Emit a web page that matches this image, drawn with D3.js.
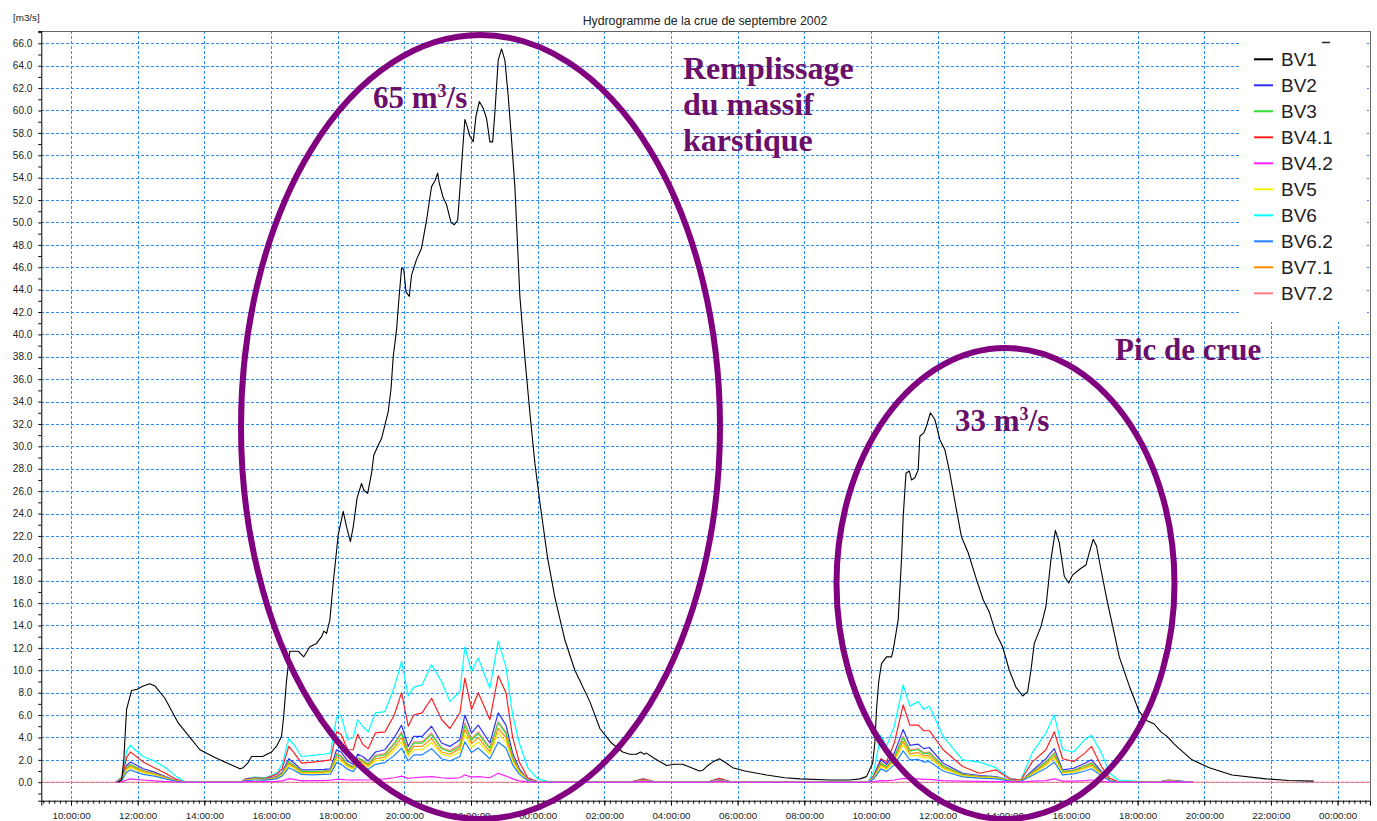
<!DOCTYPE html>
<html>
<head>
<meta charset="utf-8">
<script src="https://cdn.jsdelivr.net/npm/d3@7"></script>
<style>
  html, body { margin: 0; padding: 0; background: #ffffff; }
  svg { display: block; font-family: "Liberation Sans", Arial, sans-serif; }
</style>
</head>
<body>
<svg id="chart" width="1377" height="821"></svg>
<script>
// ---- Series definitions ----
const seriesNames  = ["BV1", "BV2", "BV3", "BV4.1", "BV4.2", "BV5", "BV6", "BV6.2", "BV7.1", "BV7.2"];
const seriesColors = ["#000000", "#3030f0", "#30e030", "#ff2020", "#ff20ff", "#f0f000", "#00ffff", "#2080ff", "#ff8c00", "#ff8080"];

// ---- BV1 discharge (m3/s) ----
const bv1Times = [
  "2002-09-08 11:25","2002-09-08 11:31","2002-09-08 11:35","2002-09-08 11:40","2002-09-08 11:49","2002-09-08 11:59",
  "2002-09-08 12:10","2002-09-08 12:22","2002-09-08 12:31","2002-09-08 12:49","2002-09-08 13:13","2002-09-08 13:34",
  "2002-09-08 13:52","2002-09-08 14:19","2002-09-08 14:46","2002-09-08 15:04","2002-09-08 15:10","2002-09-08 15:18",
  "2002-09-08 15:25","2002-09-08 15:37","2002-09-08 15:45","2002-09-08 16:01","2002-09-08 16:11","2002-09-08 16:19",
  "2002-09-08 16:23","2002-09-08 16:28","2002-09-08 16:34","2002-09-08 16:40","2002-09-08 16:49","2002-09-08 16:59",
  "2002-09-08 17:10","2002-09-08 17:22","2002-09-08 17:31","2002-09-08 17:35","2002-09-08 17:40","2002-09-08 17:46",
  "2002-09-08 17:52","2002-09-08 18:01","2002-09-08 18:10","2002-09-08 18:16","2002-09-08 18:23","2002-09-08 18:28",
  "2002-09-08 18:35","2002-09-08 18:43","2002-09-08 18:47","2002-09-08 18:54","2002-09-08 19:01","2002-09-08 19:05",
  "2002-09-08 19:13","2002-09-08 19:19","2002-09-08 19:25","2002-09-08 19:31","2002-09-08 19:36","2002-09-08 19:40",
  "2002-09-08 19:46","2002-09-08 19:50","2002-09-08 19:55","2002-09-08 19:59","2002-09-08 20:03","2002-09-08 20:09",
  "2002-09-08 20:13","2002-09-08 20:22","2002-09-08 20:31","2002-09-08 20:40","2002-09-08 20:49","2002-09-08 20:55",
  "2002-09-08 21:00","2002-09-08 21:03","2002-09-08 21:10","2002-09-08 21:16","2002-09-08 21:24","2002-09-08 21:30",
  "2002-09-08 21:36","2002-09-08 21:40","2002-09-08 21:45","2002-09-08 21:49","2002-09-08 21:53","2002-09-08 21:58",
  "2002-09-08 22:04","2002-09-08 22:09","2002-09-08 22:15","2002-09-08 22:22","2002-09-08 22:28","2002-09-08 22:34",
  "2002-09-08 22:39","2002-09-08 22:43","2002-09-08 22:49","2002-09-08 22:55","2002-09-08 23:01","2002-09-08 23:07",
  "2002-09-08 23:13","2002-09-08 23:19","2002-09-08 23:28","2002-09-08 23:37","2002-09-08 23:46","2002-09-08 23:55",
  "2002-09-09 00:04","2002-09-09 00:18","2002-09-09 00:31","2002-09-09 00:49","2002-09-09 01:07","2002-09-09 01:34",
  "2002-09-09 01:52","2002-09-09 02:13","2002-09-09 02:33","2002-09-09 02:46","2002-09-09 02:58","2002-09-09 03:05",
  "2002-09-09 03:12","2002-09-09 03:16","2002-09-09 03:31","2002-09-09 03:52","2002-09-09 04:06","2002-09-09 04:21",
  "2002-09-09 04:37","2002-09-09 04:51","2002-09-09 04:58","2002-09-09 05:04","2002-09-09 05:15","2002-09-09 05:27",
  "2002-09-09 05:40","2002-09-09 05:51","2002-09-09 06:13","2002-09-09 06:52","2002-09-09 07:25","2002-09-09 07:52",
  "2002-09-09 08:46","2002-09-09 09:22","2002-09-09 09:40","2002-09-09 09:52","2002-09-09 10:03","2002-09-09 10:07",
  "2002-09-09 10:10","2002-09-09 10:14","2002-09-09 10:19","2002-09-09 10:28","2002-09-09 10:37","2002-09-09 10:40",
  "2002-09-09 10:49","2002-09-09 10:55","2002-09-09 10:58","2002-09-09 11:03","2002-09-09 11:09","2002-09-09 11:13",
  "2002-09-09 11:19","2002-09-09 11:25","2002-09-09 11:28","2002-09-09 11:35","2002-09-09 11:40","2002-09-09 11:47",
  "2002-09-09 11:55","2002-09-09 12:04","2002-09-09 12:13","2002-09-09 12:22","2002-09-09 12:34","2002-09-09 12:43",
  "2002-09-09 12:55","2002-09-09 13:10","2002-09-09 13:22","2002-09-09 13:33","2002-09-09 13:45","2002-09-09 13:57",
  "2002-09-09 14:09","2002-09-09 14:21","2002-09-09 14:33","2002-09-09 14:42","2002-09-09 14:48","2002-09-09 14:54",
  "2002-09-09 15:06","2002-09-09 15:15","2002-09-09 15:24","2002-09-09 15:32","2002-09-09 15:39","2002-09-09 15:48",
  "2002-09-09 15:56","2002-09-09 16:03","2002-09-09 16:15","2002-09-09 16:27","2002-09-09 16:33","2002-09-09 16:40",
  "2002-09-09 16:46","2002-09-09 16:54","2002-09-09 17:06","2002-09-09 17:18","2002-09-09 17:27","2002-09-09 17:45",
  "2002-09-09 18:03","2002-09-09 18:17","2002-09-09 18:30","2002-09-09 18:42","2002-09-09 18:53","2002-09-09 19:06",
  "2002-09-09 19:24","2002-09-09 19:38","2002-09-09 20:09","2002-09-09 20:50","2002-09-09 21:51","2002-09-09 22:32",
  "2002-09-09 23:17"
];
const bv1Values = [
  0, 0.2, 2.0, 6.5, 8.2, 8.3,
  8.6, 8.8, 8.6, 7.5, 5.3, 4.0,
  2.9, 2.2, 1.6, 1.2, 1.3, 1.7,
  2.3, 2.3, 2.3, 2.7, 3.3, 4.1,
  6.0, 9.1, 11.7, 11.7, 11.7, 11.2,
  12.1, 12.4, 13.0, 13.5, 13.3, 14.5,
  17.8, 22.1, 24.2, 22.8, 21.5, 22.8,
  25.4, 26.7, 26.1, 25.8, 27.6, 29.2,
  30.1, 30.7, 31.9, 33.1, 35.1, 38.0,
  40.4, 43.0, 45.9, 45.8, 43.8, 43.4,
  45.3, 46.7, 47.7, 50.2, 53.2, 53.7,
  54.4, 53.5, 52.2, 51.6, 50.0, 49.8,
  50.2, 52.9, 56.5, 59.2, 58.6, 57.7,
  57.2, 59.5, 60.8, 60.2, 59.3, 57.2,
  57.2, 59.8, 64.5, 65.5, 64.5, 61.3,
  57.4, 53.2, 43.4, 37.9, 33.0, 28.5,
  25.0, 20.0, 16.5, 12.7, 10.0, 7.2,
  4.8, 3.5, 2.7, 2.5, 2.5, 2.7,
  2.5, 2.6, 2.1, 1.5, 1.6, 1.6,
  1.3, 1.0, 1.1, 1.4, 1.8, 2.1,
  1.7, 1.3, 1.0, 0.65, 0.4, 0.3,
  0.2, 0.2, 0.3, 0.5, 1.7, 3.5,
  6.5, 9.0, 10.6, 11.2, 11.2, 11.8,
  14.5, 19.9, 23.7, 27.6, 27.8, 27.0,
  27.2, 27.9, 30.9, 31.2, 31.8, 33.0,
  32.4, 30.6, 29.7, 27.6, 24.3, 21.9,
  20.5, 18.1, 16.3, 15.2, 13.3, 12.1,
  10.0, 8.5, 7.7, 8.1, 10.0, 12.4,
  13.9, 15.7, 19.9, 22.5, 21.4, 18.4,
  17.8, 18.5, 19.0, 19.4, 20.5, 21.7,
  21.1, 19.0, 16.0, 13.3, 11.2, 8.6,
  6.3, 5.5, 5.2, 4.5, 4.1, 3.4,
  2.6, 2.0, 1.3, 0.65, 0.3, 0.15,
  0.1
];

// ---- Sub-basins BV2 ... BV7.2 (m3/s), shared time stamps ----
const subTimes = [
  "2002-09-08 11:20","2002-09-08 11:32","2002-09-08 11:40","2002-09-08 11:47","2002-09-08 11:55","2002-09-08 12:10",
  "2002-09-08 12:30","2002-09-08 12:50","2002-09-08 13:10","2002-09-08 13:25","2002-09-08 15:05","2002-09-08 15:15",
  "2002-09-08 15:30","2002-09-08 15:50","2002-09-08 16:10","2002-09-08 16:20","2002-09-08 16:32","2002-09-08 16:42",
  "2002-09-08 16:55","2002-09-08 17:15","2002-09-08 17:35","2002-09-08 17:47","2002-09-08 17:58","2002-09-08 18:06",
  "2002-09-08 18:18","2002-09-08 18:28","2002-09-08 18:36","2002-09-08 18:45","2002-09-08 18:55","2002-09-08 19:08",
  "2002-09-08 19:25","2002-09-08 19:42","2002-09-08 19:55","2002-09-08 20:07","2002-09-08 20:17","2002-09-08 20:32",
  "2002-09-08 20:49","2002-09-08 21:07","2002-09-08 21:22","2002-09-08 21:40","2002-09-08 21:49","2002-09-08 22:01",
  "2002-09-08 22:13","2002-09-08 22:34","2002-09-08 22:49","2002-09-08 23:03","2002-09-08 23:15","2002-09-08 23:27",
  "2002-09-08 23:42","2002-09-09 00:00","2002-09-09 00:20","2002-09-09 02:45","2002-09-09 03:10","2002-09-09 03:35",
  "2002-09-09 05:05","2002-09-09 05:27","2002-09-09 05:50","2002-09-09 09:55","2002-09-09 10:05","2002-09-09 10:18",
  "2002-09-09 10:28","2002-09-09 10:42","2002-09-09 10:58","2002-09-09 11:10","2002-09-09 11:25","2002-09-09 11:35",
  "2002-09-09 11:45","2002-09-09 12:10","2002-09-09 12:45","2002-09-09 13:15","2002-09-09 13:45","2002-09-09 14:10",
  "2002-09-09 14:30","2002-09-09 14:50","2002-09-09 15:15","2002-09-09 15:30","2002-09-09 15:45","2002-09-09 16:05",
  "2002-09-09 16:25","2002-09-09 16:37","2002-09-09 16:55","2002-09-09 17:10","2002-09-09 17:25","2002-09-09 18:35",
  "2002-09-09 18:55","2002-09-09 19:20","2002-09-09 19:40"
];
const bv2Values = [
  0, 0.3, 1.5, 1.8, 1.6, 1.2, 0.9, 0.5, 0.15, 0, 0, 0.25,
  0.35, 0.3, 0.5, 0.9, 2.1, 1.7, 1.1, 1.1, 1.15, 1.2, 2.9, 2.7,
  1.9, 1.6, 2.5, 2.3, 1.9, 2.7, 2.9, 4.0, 5.1, 3.2, 4.1, 4.1,
  5.0, 3.5, 3.2, 3.8, 6.0, 4.4, 5.1, 3.5, 6.2, 5.1, 2.6, 1.2,
  0.25, 0.03, 0, 0, 0.2, 0, 0, 0.25, 0, 0, 0.5, 2.0,
  1.6, 2.6, 4.7, 3.3, 3.4, 3.0, 3.1, 1.7, 0.8, 0.6, 0.5, 0.2,
  0.1, 1.0, 2.1, 3.0, 1.1, 1.25, 1.7, 2.0, 0.95, 0.2, 0, 0,
  0.15, 0.05, 0
];
const bv3Values = [
  0, 0.25, 1.3, 1.55, 1.35, 1.0, 0.75, 0.42, 0.12, 0, 0, 0.2,
  0.3, 0.25, 0.42, 0.76, 1.8, 1.45, 0.95, 0.95, 1.0, 1.0, 2.45, 2.3,
  1.6, 1.35, 2.1, 1.95, 1.6, 2.3, 2.45, 3.4, 4.35, 2.7, 3.5, 3.5,
  4.25, 3.0, 2.7, 3.2, 5.1, 3.75, 4.35, 3.0, 5.3, 4.35, 2.2, 1.0,
  0.2, 0.02, 0, 0, 0.15, 0, 0, 0.2, 0, 0, 0.4, 1.7,
  1.35, 2.2, 4.0, 2.8, 2.9, 2.55, 2.6, 1.45, 0.68, 0.5, 0.43, 0.17,
  0.08, 0.85, 1.8, 2.55, 0.95, 1.05, 1.45, 1.7, 0.8, 0.17, 0, 0,
  0.12, 0.04, 0
];
const bv41Values = [
  0, 0.4, 2.2, 2.7, 2.4, 1.8, 1.3, 0.8, 0.25, 0, 0, 0.3,
  0.4, 0.35, 0.7, 1.2, 3.2, 2.6, 1.7, 1.8, 1.9, 2.0, 4.5, 4.3,
  2.9, 2.9, 4.3, 3.4, 3.0, 4.4, 4.5, 6.0, 8.0, 5.0, 6.0, 6.2,
  7.5, 5.6, 4.8, 6.2, 9.3, 6.5, 8.0, 5.6, 9.5, 8.0, 4.0, 1.8,
  0.4, 0.05, 0, 0, 0.3, 0, 0, 0.35, 0, 0, 0.6, 2.1,
  1.8, 3.5, 6.9, 5.1, 5.1, 4.6, 4.6, 2.9, 1.4, 0.8, 1.1, 0.3,
  0.2, 1.8, 2.9, 4.5, 2.1, 1.85, 2.6, 3.2, 1.4, 0.35, 0.05, 0,
  0.2, 0.08, 0
];
const bv42Values = [
  0, 0.05, 0.2, 0.3, 0.25, 0.2, 0.12, 0.06, 0.02, 0, 0, 0.05,
  0.05, 0.05, 0.08, 0.12, 0.3, 0.25, 0.12, 0.15, 0.15, 0.18, 0.25, 0.25,
  0.2, 0.18, 0.22, 0.2, 0.2, 0.25, 0.3, 0.4, 0.55, 0.35, 0.4, 0.45,
  0.5, 0.4, 0.35, 0.4, 0.65, 0.45, 0.5, 0.4, 0.8, 0.55, 0.3, 0.12,
  0.03, 0, 0, 0, 0.05, 0, 0, 0.08, 0, 0, 0.05, 0.15,
  0.12, 0.2, 0.35, 0.3, 0.3, 0.25, 0.25, 0.15, 0.1, 0.08, 0.06, 0.03,
  0.02, 0.1, 0.15, 0.3, 0.1, 0.1, 0.15, 0.2, 0.08, 0.02, 0, 0,
  0.03, 0.01, 0
];
const bv5Values = [
  0, 0.2, 1.1, 1.3, 1.15, 0.85, 0.65, 0.35, 0.1, 0, 0, 0.18,
  0.25, 0.2, 0.35, 0.65, 1.5, 1.2, 0.8, 0.8, 0.82, 0.85, 2.05, 1.9,
  1.35, 1.15, 1.8, 1.65, 1.35, 1.9, 2.05, 2.85, 3.6, 2.3, 2.9, 2.9,
  3.55, 2.5, 2.3, 2.7, 4.25, 3.1, 3.6, 2.5, 4.4, 3.6, 1.85, 0.85,
  0.18, 0.02, 0, 0, 0.12, 0, 0, 0.15, 0, 0, 0.35, 1.4,
  1.15, 1.85, 3.35, 2.35, 2.4, 2.15, 2.2, 1.2, 0.57, 0.43, 0.36, 0.14,
  0.07, 0.7, 1.5, 2.15, 0.8, 0.9, 1.2, 1.4, 0.68, 0.14, 0, 0,
  0.1, 0.03, 0
];
const bv6Values = [
  0, 0.5, 2.8, 3.3, 2.9, 2.3, 1.9, 1.3, 0.5, 0.05, 0, 0.3,
  0.45, 0.4, 0.8, 1.6, 3.9, 3.3, 2.3, 2.4, 2.5, 2.6, 5.8, 6.0,
  3.8, 4.0, 5.6, 5.0, 4.5, 6.2, 6.3, 8.5, 10.8, 7.7, 8.5, 8.7,
  10.5, 9.0, 7.2, 8.1, 12.1, 9.9, 11.1, 8.4, 12.6, 10.3, 6.0, 3.5,
  1.3, 0.3, 0.05, 0, 0.3, 0, 0, 0.35, 0, 0, 1.0, 4.2,
  3.2, 5.0, 8.7, 6.8, 7.2, 6.5, 6.8, 4.1, 2.0, 1.8, 1.3, 0.35,
  0.2, 2.6, 4.4, 6.0, 2.9, 2.7, 3.8, 4.2, 2.6, 0.8, 0.2, 0,
  0.2, 0.1, 0
];
const bv62Values = [
  0, 0.2, 0.9, 1.1, 0.95, 0.7, 0.55, 0.3, 0.08, 0, 0, 0.15,
  0.2, 0.18, 0.3, 0.55, 1.3, 1.05, 0.7, 0.65, 0.7, 0.72, 1.75, 1.6,
  1.15, 0.95, 1.5, 1.4, 1.15, 1.6, 1.75, 2.4, 3.05, 1.9, 2.45, 2.45,
  3.0, 2.1, 1.9, 2.3, 3.6, 2.65, 3.05, 2.1, 3.6, 3.05, 1.55, 0.7,
  0.15, 0.02, 0, 0, 0.1, 0, 0, 0.12, 0, 0, 0.3, 1.2,
  0.95, 1.55, 2.8, 2.0, 2.05, 1.8, 1.85, 1.0, 0.48, 0.36, 0.3, 0.12,
  0.06, 0.6, 1.25, 1.8, 0.65, 0.75, 1.0, 1.2, 0.57, 0.12, 0, 0,
  0.08, 0.03, 0
];
const bv71Values = [
  0, 0.25, 1.2, 1.4, 1.25, 0.95, 0.7, 0.4, 0.12, 0, 0, 0.2,
  0.28, 0.24, 0.4, 0.7, 1.65, 1.35, 0.85, 0.85, 0.9, 0.93, 2.25, 2.1,
  1.5, 1.25, 1.95, 1.8, 1.5, 2.1, 2.25, 3.1, 4.0, 2.5, 3.2, 3.2,
  3.9, 2.7, 2.5, 3.0, 4.7, 3.45, 4.0, 2.7, 4.8, 4.0, 2.0, 0.95,
  0.2, 0.02, 0, 0, 0.15, 0, 0, 0.2, 0, 0, 0.4, 1.55,
  1.25, 2.0, 3.65, 2.55, 2.65, 2.35, 2.4, 1.3, 0.62, 0.47, 0.39, 0.16,
  0.08, 0.78, 1.65, 2.35, 0.85, 0.95, 1.3, 1.55, 0.74, 0.16, 0, 0,
  0.12, 0.04, 0
];
const bv72Values = [
  0, 0.25, 1.35, 1.6, 1.4, 1.05, 0.8, 0.45, 0.13, 0, 0, 0.22,
  0.3, 0.27, 0.45, 0.8, 1.85, 1.5, 1.0, 0.95, 1.0, 1.05, 2.55, 2.4,
  1.65, 1.4, 2.2, 2.0, 1.65, 2.4, 2.55, 3.5, 4.5, 2.8, 3.6, 3.6,
  4.4, 3.1, 2.8, 3.35, 5.3, 3.9, 4.5, 3.1, 5.4, 4.5, 2.3, 1.05,
  0.22, 0.03, 0, 0, 0.18, 0, 0, 0.22, 0, 0, 0.45, 1.75,
  1.4, 2.3, 4.1, 2.9, 3.0, 2.65, 2.7, 1.5, 0.7, 0.53, 0.44, 0.18,
  0.09, 0.88, 1.85, 2.65, 0.95, 1.1, 1.5, 1.75, 0.84, 0.18, 0, 0,
  0.13, 0.05, 0
];

// ---- Axis / chart texts ----
const chartTitle = "Hydrogramme de la crue de septembre 2002";
const unitLabel = "[m3/s]";
const yLabelTicks = d3.range(0, 67, 2);       // 0.0 ... 66.0
const yMinorTicks = d3.range(-1, 68, 1);
const xDomain = ["2002-09-08 09:06:30", "2002-09-10 00:58:20"];
const yDomain = [-1.65, 67.1];

// ---- Annotations ----
const noteLines = ["Remplissage", "du massif", "karstique"];
const peakNote1 = ["65 m", "3", "/s"];
const peakNote2 = ["33 m", "3", "/s"];
const peakTitle = "Pic de crue";

// ---- Build ----
const parseT = d3.timeParse("%Y-%m-%d %H:%M");
const parseFull = d3.timeParse("%Y-%m-%d %H:%M:%S");

const W = 1377, H = 821;
const plot = { left: 41.3, right: 1370, top: 31, bottom: 800.7 };

const svg = d3.select("#chart");

const x = d3.scaleTime()
  .domain(xDomain.map(parseFull))
  .range([plot.left, plot.right]);
const y = d3.scaleLinear()
  .domain(yDomain)
  .range([plot.bottom, plot.top]);

const subSeries = [bv2Values, bv3Values, bv41Values, bv42Values, bv5Values, bv6Values, bv62Values, bv71Values, bv72Values];
const subT = subTimes.map(parseT);
const allSeries = [
  { name: seriesNames[0], color: seriesColors[0], pts: bv1Times.map((t, i) => [parseT(t), bv1Values[i]]) }
].concat(subSeries.map((vals, k) => ({
  name: seriesNames[k + 1],
  color: seriesColors[k + 1],
  pts: vals.map((v, i) => [subT[i], v])
})));

// grid
const grid = svg.append("g").attr("class", "grid")
  .attr("stroke", "#2a8cff").attr("stroke-width", 1).attr("stroke-dasharray", "3,2")
  .attr("shape-rendering", "crispEdges");
grid.selectAll("line.h").data(yLabelTicks).join("line").attr("class", "h")
  .attr("x1", plot.left).attr("x2", plot.right)
  .attr("y1", d => Math.round(y(d)) + 0.5).attr("y2", d => Math.round(y(d)) + 0.5);
const hourTicks = x.ticks(d3.timeHour.every(2));
grid.selectAll("line.v").data(hourTicks).join("line").attr("class", "v")
  .attr("y1", plot.top).attr("y2", plot.bottom)
  .attr("x1", d => Math.round(x(d)) + 0.5).attr("x2", d => Math.round(x(d)) + 0.5);

// frame (top and right)
svg.append("path")
  .attr("d", `M${plot.left},${plot.top + 0.5}H${plot.right + 0.5}V${plot.bottom}`)
  .attr("fill", "none").attr("stroke", "#666").attr("stroke-width", 1)
  .attr("shape-rendering", "crispEdges");

// zero reference line
svg.append("line")
  .attr("x1", plot.left).attr("x2", plot.right)
  .attr("y1", y(0)).attr("y2", y(0))
  .attr("stroke", "#ff7878").attr("stroke-width", 1.2);

// series
const line = d3.line().x(d => x(d[0])).y(d => y(d[1]));
const order = [6, 3, 1, 9, 2, 8, 5, 7, 4, 0];
svg.append("g").attr("class", "series")
  .selectAll("path").data(order.map(i => allSeries[i])).join("path")
  .attr("d", d => line(d.pts))
  .attr("fill", "none")
  .attr("stroke", d => d.color)
  .attr("stroke-width", d => d.name === "BV1" ? 1.1 : 1.2)
  .attr("stroke-linejoin", "round");

// axes
const yAxis = d3.axisLeft(y).tickValues(yMinorTicks).tickSize(3).tickPadding(6)
  .tickFormat(d => (d >= 0 && d % 2 === 0) ? d3.format(".1f")(d) : "");
const gy = svg.append("g").attr("transform", `translate(${plot.left},0)`).call(yAxis);
gy.select(".domain").attr("stroke", "#000");
gy.selectAll("text").attr("font-size", 10).attr("fill", "#222")
  .attr("font-family", "'Liberation Sans', Arial, sans-serif");

const xMinorAxis = d3.axisBottom(x).ticks(d3.timeMinute.every(10)).tickSize(3).tickFormat("");
const gxm = svg.append("g").attr("transform", `translate(0,${plot.bottom})`).call(xMinorAxis);
gxm.select(".domain").remove();

const xAxis = d3.axisBottom(x).ticks(d3.timeHour.every(2)).tickSize(5).tickPadding(6)
  .tickFormat(d3.timeFormat("%H:%M:%S"));
const gx = svg.append("g").attr("transform", `translate(0,${plot.bottom})`).call(xAxis);
gx.select(".domain").attr("stroke", "#000");
gx.selectAll("text").attr("font-size", 9.8).attr("fill", "#222")
  .attr("font-family", "'Liberation Sans', Arial, sans-serif");

// titles
svg.append("text").attr("x", 705).attr("y", 25).attr("text-anchor", "middle")
  .attr("font-size", 12.3).attr("fill", "#222").text(chartTitle);
svg.append("text").attr("x", 13).attr("y", 21)
  .attr("font-size", 9.8).attr("fill", "#222").text(unitLabel);

// legend
const legend = svg.append("g").attr("class", "legend");
legend.append("rect").attr("x", 1240).attr("y", 32).attr("width", 127).attr("height", 290).attr("fill", "#fff");
legend.append("line").attr("x1", 1322).attr("x2", 1330).attr("y1", 42.5).attr("y2", 42.5)
  .attr("stroke", "#222").attr("stroke-width", 1.5);
const items = legend.selectAll("g.item").data(allSeries).join("g").attr("class", "item")
  .attr("transform", (d, i) => `translate(0,${59.3 + i * 26})`);
items.append("line").attr("x1", 1254).attr("x2", 1273).attr("y1", 0).attr("y2", 0)
  .attr("stroke", d => d.color).attr("stroke-width", 2);
items.append("text").attr("x", 1281).attr("y", 7).attr("font-size", 19).attr("fill", "#222")
  .text(d => d.name);

// annotations
const purple = "#800080";
const ann = svg.append("g").attr("class", "annotations");
ann.append("ellipse").attr("cx", 480.5).attr("cy", 427).attr("rx", 239.5).attr("ry", 392)
  .attr("fill", "none").attr("stroke", purple).attr("stroke-width", 6);
ann.append("ellipse").attr("cx", 1005.5).attr("cy", 583.5).attr("rx", 169).attr("ry", 235.5)
  .attr("fill", "none").attr("stroke", purple).attr("stroke-width", 6);

const serif = "'Liberation Serif', 'Times New Roman', serif";
const textColor = "#6a0f6a";
function peakLabel(px, py, parts) {
  const t = ann.append("text").attr("x", px).attr("y", py)
    .attr("font-family", serif).attr("font-weight", "bold").attr("font-size", 31).attr("fill", textColor);
  t.append("tspan").text(parts[0]);
  t.append("tspan").attr("font-size", 18).attr("dy", -11).text(parts[1]);
  t.append("tspan").attr("dy", 11).text(parts[2]);
}
peakLabel(373, 108, peakNote1);
peakLabel(955, 431, peakNote2);

const note = ann.append("text").attr("font-family", serif).attr("font-weight", "bold")
  .attr("font-size", 32).attr("fill", textColor);
noteLines.forEach((s, i) => note.append("tspan").attr("x", 683).attr("y", 79 + i * 36).text(s));
ann.append("text").attr("x", 1115).attr("y", 360).attr("font-family", serif).attr("font-weight", "bold")
  .attr("font-size", 31).attr("fill", textColor).text(peakTitle);
</script>
</body>
</html>
